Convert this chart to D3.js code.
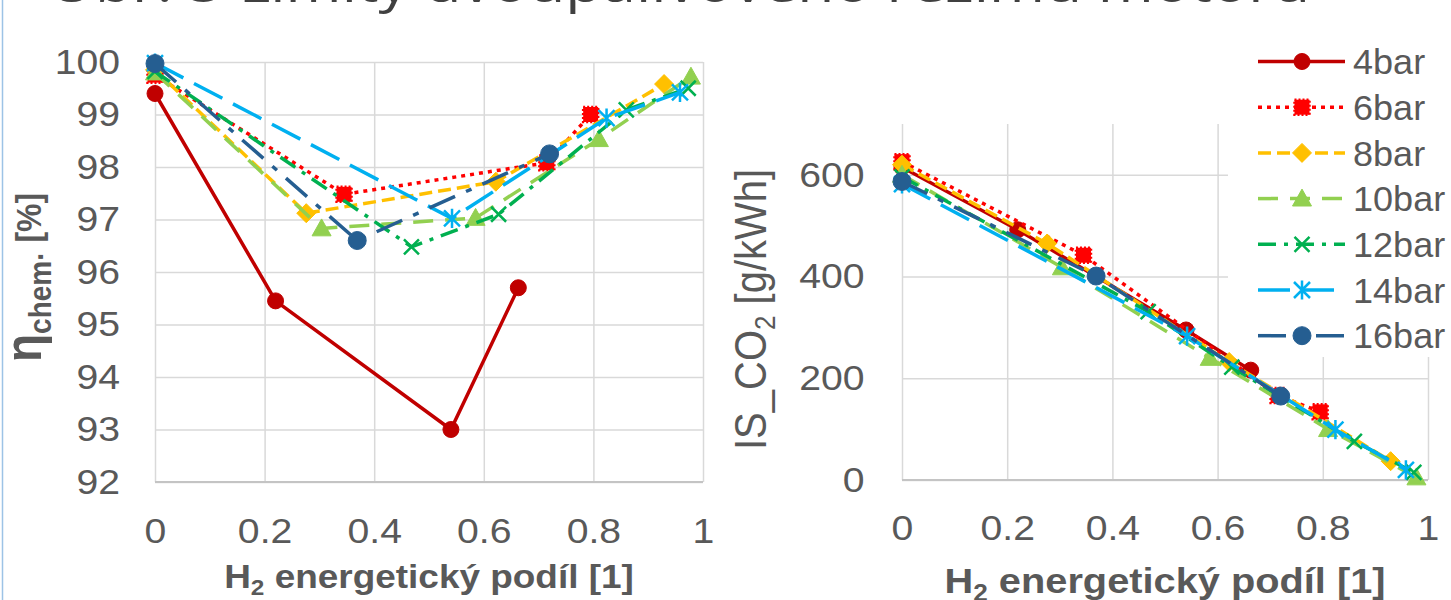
<!DOCTYPE html>
<html>
<head>
<meta charset="utf-8">
<script src="https://cdn.jsdelivr.net/npm/d3@7"></script>
<style>
  html, body { margin: 0; padding: 0; background: #ffffff; overflow: hidden; }
  svg { display: block; }
</style>
</head>
<body>
<svg id="fig" width="1451" height="600"></svg>
<script>
// ---- data -------------------------------------------------------------
const seriesNames = ["4bar", "6bar", "8bar", "10bar", "12bar", "14bar", "16bar"];

// H2 energy share [1] for each pressure level
const h2Share4  = [0, 0.22, 0.54, 0.663];
const h2Share6  = [0, 0.345, 0.715, 0.795];
const h2Share8  = [0, 0.276, 0.622, 0.929];
const h2Share10 = [0, 0.304, 0.585, 0.81, 0.978];
const h2Share12 = [0, 0.468, 0.627, 0.86, 0.973];
const h2Share14 = [0, 0.542, 0.824, 0.958];
const h2Share16 = [0, 0.369, 0.72];

// chemical efficiency eta_chem [%]
const etaChem4  = [99.4, 95.45, 93.0, 95.7];
const etaChem6  = [99.75, 97.48, 98.08, 99.0];
const etaChem8  = [99.85, 97.12, 97.72, 99.58];
const etaChem10 = [99.8, 96.83, 97.03, 98.53, 99.72];
const etaChem12 = [99.82, 96.48, 97.1, 99.09, 99.5];
const etaChem14 = [99.98, 97.02, 98.93, 99.42];
const etaChem16 = [99.97, 96.6, 98.25];

// specific CO2 emissions IS_CO2 [g/kWh]
const isCO2_4  = [615, 492, 295, 216];
const isCO2_6  = [626, 442, 166, 134];
const isCO2_8  = [620, 465, 232, 37];
const isCO2_10 = [600, 418, 240, 100, 5];
const isCO2_12 = [596, 331, 222, 76, 15];
const isCO2_14 = [582, 283, 99, 20];
const isCO2_16 = [587, 401, 165];

const xTickValues    = [0, 0.2, 0.4, 0.6, 0.8, 1];
const etaTickValues  = [92, 93, 94, 95, 96, 97, 98, 99, 100];
const co2TickValues  = [0, 200, 400, 600];

const figureTitle = "Obr. 5 Limity dvoupalivového režimu motoru";

// ---- styling ----------------------------------------------------------
const SX = 1.12;              // horizontal stretch of axis lettering
const SX_LEGEND = 1.03;       // legend lettering is a little narrower
const GREY = "#595959";
const FONT = "'Liberation Sans', Arial, sans-serif";

const styles = {
  "4bar":  { color: "#c00000", width: 3.5, dash: null,          marker: "circle",   size: 8 },
  "6bar":  { color: "#ff0000", width: 3.5, dash: "4 5",         marker: "square",   size: 7.5 },
  "8bar":  { color: "#ffc000", width: 3.5, dash: "13 6",        marker: "diamond",  size: 9.5 },
  "10bar": { color: "#92d050", width: 3.5, dash: "20 12",       marker: "triangle", size: 9.5 },
  "12bar": { color: "#00b050", width: 3.5, dash: "18 8 4 8",    marker: "x",        size: 7.5 },
  "14bar": { color: "#00b0f0", width: 3.5, dash: "32 12",       marker: "asterisk", size: 8 },
  "16bar": { color: "#255e91", width: 3.5, dash: "28 12 6 12",  marker: "circle",   size: 9 }
};

const shareArrays = [h2Share4, h2Share6, h2Share8, h2Share10, h2Share12, h2Share14, h2Share16];
const etaArrays   = [etaChem4, etaChem6, etaChem8, etaChem10, etaChem12, etaChem14, etaChem16];
const co2Arrays   = [isCO2_4, isCO2_6, isCO2_8, isCO2_10, isCO2_12, isCO2_14, isCO2_16];

const series = seriesNames.map((name, i) => ({
  name,
  eta: shareArrays[i].map((s, j) => [s, etaArrays[i][j]]),
  co2: shareArrays[i].map((s, j) => [s, co2Arrays[i][j]]),
  style: styles[name]
}));

const svg = d3.select("#fig");

// ---- helpers ----------------------------------------------------------
function markerPath(type, s) {
  switch (type) {
    case "square":   return `M${-s},${-s}H${s}V${s}H${-s}Z`;
    case "diamond":  return `M0,${-s}L${s},0L0,${s}L${-s},0Z`;
    case "triangle": return `M0,${-s}L${s},${s * 0.78}L${-s},${s * 0.78}Z`;
    case "x":        return `M${-s},${-s}L${s},${s}M${-s},${s}L${s},${-s}`;
    case "asterisk": return `M${-s},${-s}L${s},${s}M${-s},${s}L${s},${-s}M0,${-s * 1.2}L0,${s * 1.2}`;
    default:         return d3.symbol(d3.symbolCircle, Math.PI * s * s)();
  }
}

function drawMarker(g, st, x, y) {
  const p = g.append("path")
    .attr("d", markerPath(st.marker, st.size))
    .attr("transform", `translate(${x},${y})`);
  if (st.marker === "x" || st.marker === "asterisk") {
    p.attr("fill", "none").attr("stroke", st.color).attr("stroke-width", 2.5);
  } else if (st.marker === "square") {
    p.attr("fill", st.color).attr("stroke", st.color)
     .attr("stroke-width", 2.5).attr("stroke-dasharray", "2 2");
  } else {
    p.attr("fill", st.color).attr("stroke", st.color).attr("stroke-width", 1);
  }
}

// stretch tick labels horizontally about their own anchor
function stretchTicks(sel) {
  sel.selectAll(".tick text").each(function () {
    const t = d3.select(this);
    t.attr("x", (+t.attr("x") || 0) / SX).attr("transform", `scale(${SX},1)`);
  });
}

function styleAxis(g) {
  g.select(".domain").remove();
  g.selectAll(".tick line").attr("stroke", "#d9d9d9").attr("stroke-width", 1.5);
  g.selectAll(".tick text")
    .attr("fill", GREY)
    .attr("font-family", FONT)
    .attr("font-size", 35);
}

function drawPanel(opt) {
  const { x, y, xTicks, yTicks, yFmt, yPad, xPad } = opt;
  const [x0, x1] = x.range();
  const [yb, yt] = y.range();
  const panel = svg.append("g");

  // horizontal grid + value labels
  const gy = panel.append("g")
    .attr("transform", `translate(${x0},0)`)
    .call(d3.axisLeft(y).tickValues(yTicks).tickFormat(yFmt)
      .tickSizeInner(-(x1 - x0)).tickSizeOuter(0).tickPadding(yPad));
  styleAxis(gy);
  stretchTicks(gy);

  // vertical grid + share labels
  const gx = panel.append("g")
    .attr("transform", `translate(0,${yb})`)
    .call(d3.axisBottom(x).tickValues(xTicks).tickFormat(d3.format("~g"))
      .tickSizeInner(-(yb - yt)).tickSizeOuter(0).tickPadding(xPad));
  styleAxis(gx);
  stretchTicks(gx);

  // baseline of the plot
  panel.append("line")
    .attr("x1", x0).attr("x2", x1).attr("y1", yb).attr("y2", yb)
    .attr("stroke", "#c4c4c4").attr("stroke-width", 2);

  return panel;
}

function drawSeries(panel, x, y, key) {
  const line = d3.line().x(d => x(d[0])).y(d => y(d[1]));
  series.forEach(s => {
    const g = panel.append("g");
    g.append("path")
      .attr("d", line(s[key]))
      .attr("fill", "none")
      .attr("stroke", s.style.color)
      .attr("stroke-width", s.style.width)
      .attr("stroke-dasharray", s.style.dash)
      .attr("stroke-linejoin", "round");
    s[key].forEach(d => drawMarker(g, s.style, x(d[0]), y(d[1])));
  });
}

// ---- slide decoration ---------------------------------------------------
svg.append("line")
  .attr("x1", 2.5).attr("x2", 2.5).attr("y1", 0).attr("y2", 600)
  .attr("stroke", "#9dc3e6").attr("stroke-width", 1.5);

svg.append("text")
  .attr("x", 48).attr("y", 1.5)
  .attr("textLength", 1262).attr("lengthAdjust", "spacingAndGlyphs")
  .attr("font-family", "'Open Sans', sans-serif")
  .attr("font-size", 50)
  .attr("fill", "#404040")
  .text(figureTitle);

// ---- left panel: chemical efficiency ------------------------------------
const xL = d3.scaleLinear().domain([0, 1]).range([155, 703]);
const yL = d3.scaleLinear().domain([92, 100]).range([482, 62]);

const left = drawPanel({
  x: xL, y: yL, xTicks: xTickValues, yTicks: etaTickValues,
  yFmt: d3.format("d"), yPad: 35, xPad: 36
});
drawSeries(left, xL, yL, "eta");

// y title: eta_chem· [%]
const yTitleL = svg.append("text")
  .attr("transform", `translate(41,362) scale(${SX},1) rotate(-90)`)
  .attr("font-family", FONT).attr("font-weight", "bold")
  .attr("fill", GREY);
yTitleL.append("tspan").attr("font-size", 46).text("η");
yTitleL.append("tspan").attr("font-size", 28).attr("dy", 9).text("chem·");
yTitleL.append("tspan").attr("font-size", 32).attr("dy", -9).text(" [%]");

// x title
function xTitle(cx, cy, size) {
  const t = svg.append("text")
    .attr("transform", `translate(${cx},${cy}) scale(${SX},1)`)
    .attr("text-anchor", "middle")
    .attr("font-family", FONT).attr("font-weight", "bold")
    .attr("font-size", size).attr("fill", GREY);
  t.append("tspan").text("H");
  t.append("tspan").attr("font-size", size * 0.66).attr("dy", size * 0.22).text("2");
  t.append("tspan").attr("dy", -size * 0.22).text(" energetický podíl [1]");
}
xTitle(429, 588, 33);

// ---- right panel: CO2 emissions -----------------------------------------
const xR = d3.scaleLinear().domain([0, 1]).range([902, 1428]);
const yR = d3.scaleLinear().domain([0, 700]).range([480, 124]);

const right = drawPanel({
  x: xR, y: yR, xTicks: xTickValues, yTicks: co2TickValues,
  yFmt: d3.format("d"), yPad: 37.5, xPad: 35.5
});

// legend box sits over the upper right part of the plot
const legendTop = 61.5, legendStep = 45.7;
right.append("rect")
  .attr("x", 1228).attr("y", 30).attr("width", 223).attr("height", 327)
  .attr("fill", "#ffffff");

drawSeries(right, xR, yR, "co2");

const yTitleR = svg.append("text")
  .attr("transform", `translate(766,450) scale(${SX},1) rotate(-90)`)
  .attr("font-family", FONT)
  .attr("font-size", 40).attr("fill", GREY);
yTitleR.append("tspan").text("IS_CO");
yTitleR.append("tspan").attr("font-size", 26).attr("dy", 8).text("2");
yTitleR.append("tspan").attr("dy", -8).text(" [g/kWh]");

xTitle(1165, 593, 35.5);

// ---- legend -------------------------------------------------------------
series.forEach((s, i) => {
  const cy = legendTop + i * legendStep;
  const g = svg.append("g");
  g.append("line")
    .attr("x1", 1258).attr("x2", 1345).attr("y1", cy).attr("y2", cy)
    .attr("stroke", s.style.color).attr("stroke-width", s.style.width)
    .attr("stroke-dasharray", s.style.dash);
  drawMarker(g, s.style, 1302, cy);
  g.append("text")
    .attr("transform", `translate(1353,${cy}) scale(${SX_LEGEND},1)`)
    .attr("dy", "0.36em")
    .attr("font-family", FONT).attr("font-size", 35).attr("fill", GREY)
    .text(s.name);
});
</script>
</body>
</html>
